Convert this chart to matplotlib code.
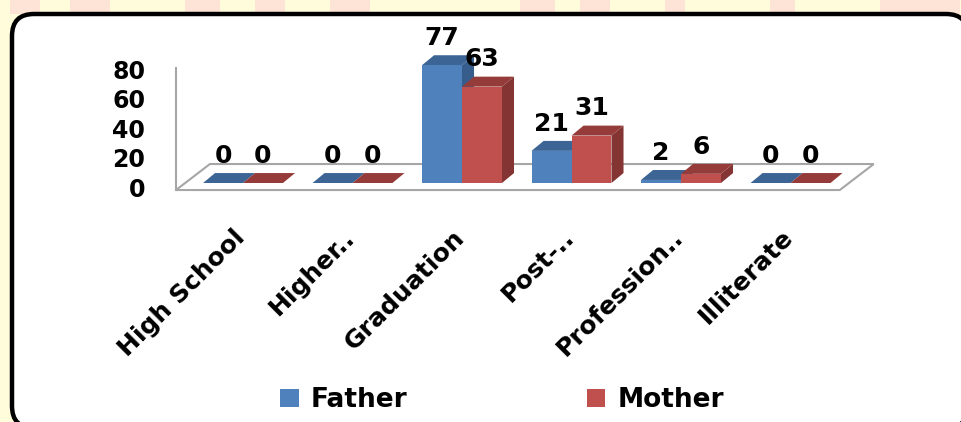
import matplotlib
matplotlib.use("Agg")
import matplotlib.pyplot as plt
from matplotlib.patches import Polygon, Rectangle, FancyBboxPatch, Patch

plt.rcParams['font.family'] = ['DejaVu Sans']
plt.rcParams['font.weight'] = 'bold'

# data
categories = ['High School', 'Higher..', 'Graduation', 'Post-..', 'Profession..', 'Illiterate']
father = [0, 0, 77, 21, 2, 0]
mother = [0, 0, 63, 31, 6, 0]
series_names = ['Father', 'Mother']
yticks = [0, 20, 40, 60, 80]

# colours (front, top, side)
blue = ('#4F81BD', '#3C6494', '#375D8C')
red = ('#C0504D', '#953B39', '#843432')

# 3d look
bar_w = 0.365
dx, dy = 0.11, 6.5
floor_front, floor_back = -4.6, 12.4
floor_shift = 0.31
floor_x0, floor_x1 = -0.612, 5.45
axis_top = 75.2

fig = plt.figure(figsize=(9.62, 4.22), dpi=100)

# background + rounded frame (pixel coords)
bg = fig.add_axes([0, 0, 1, 1])
bg.set_xlim(0, 962)
bg.set_ylim(0, 422)
bg.axis('off')
bg.add_patch(Rectangle((0, 0), 962, 422, fc='#FFFCDC', ec='none'))
for x0, w in [(10, 30), (70, 40), (185, 35), (255, 30), (330, 40), (520, 35), (580, 30),
              (665, 20), (770, 25), (880, 80)]:
    bg.add_patch(Rectangle((x0, 408), w, 14, fc='#FDD5D2', ec='none', alpha=0.6))
bg.add_patch(FancyBboxPatch((12, -6), 956, 414, boxstyle='round,pad=0,rounding_size=22',
                            fc='white', ec='black', lw=3.2))

ax = fig.add_axes([0, 0, 1, 1])
ax.set_xlim(-2.219, 6.566)
ax.set_ylim(-156.2, 119.6)
ax.axis('off')
ax.patch.set_alpha(0)

# floor and axis
floor = Polygon([(floor_x0, floor_front), (floor_x1, floor_front),
                 (floor_x1 + floor_shift, floor_back), (floor_x0 + floor_shift, floor_back)],
                closed=True, fc='white', ec='#A6A6A6', lw=1.5)
ax.add_patch(floor)
ax.plot([floor_x0, floor_x0], [floor_front, axis_top], color='#A6A6A6', lw=1.5)

for t in yticks:
    ypos = (1.475 * t - 7) / 1.53
    ax.text(floor_x0 - 0.28, ypos, str(t), ha='right', va='center', fontsize=17, fontweight='bold')


def bar3d(x, h, cols):
    front, top, side = cols
    ax.add_patch(Polygon([(x + bar_w, 0), (x + bar_w + dx, dy), (x + bar_w + dx, h + dy), (x + bar_w, h)],
                         closed=True, fc=side, ec='none'))
    ax.add_patch(Polygon([(x, h), (x + bar_w, h), (x + bar_w + dx, h + dy), (x + dx, h + dy)],
                         closed=True, fc=top, ec='none'))
    if h > 0:
        ax.add_patch(Rectangle((x, 0), bar_w, h, fc=front, ec='none'))
    ax.text(x + bar_w / 2, h + dy + 3.5, str(h), ha='center', va='bottom', fontsize=18, fontweight='bold')


for i in range(len(categories)):
    bar3d(i - bar_w, father[i], blue)
    bar3d(i, mother[i], red)
    ax.text(i - 0.09, floor_front - 23, categories[i], rotation=45, ha='right', va='top',
            rotation_mode='anchor', fontsize=18, fontweight='bold')

handles = [Patch(fc=blue[0]), Patch(fc=red[0])]
fig.legend(handles, series_names, ncol=2, loc='center', bbox_to_anchor=(502 / 962, 22 / 422),
           frameon=False, prop={'size': 19, 'weight': 'bold'}, handlelength=0.7,
           handleheight=0.7, handletextpad=0.45, columnspacing=6.8)

fig.savefig('out.png', dpi=100)
